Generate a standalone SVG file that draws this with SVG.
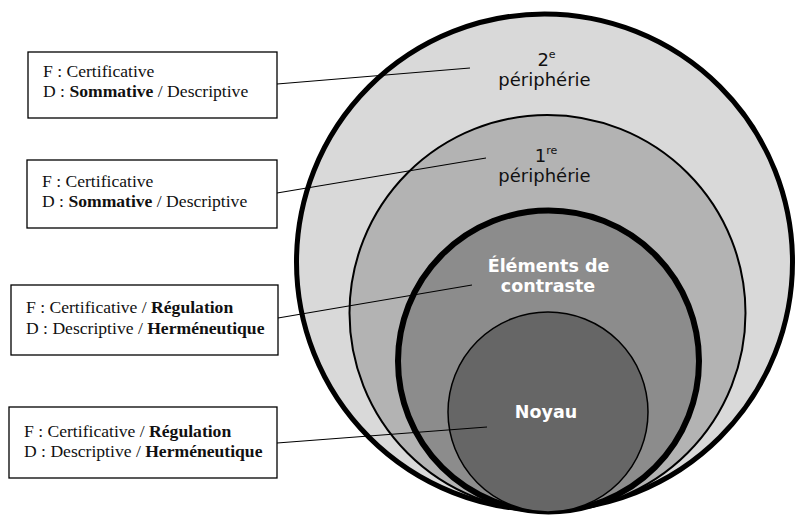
<svg xmlns="http://www.w3.org/2000/svg" width="795" height="515" viewBox="0 0 795 515">
<style>
.box{fill:#fff;stroke:#000;stroke-width:1.3}
.bt{font-family:"Liberation Serif","Times New Roman",serif;font-size:17.6px;fill:#111}
.b{font-weight:bold}
.ct{font-family:"DejaVu Sans",sans-serif;font-size:18px;fill:#111;text-anchor:middle}
.wt{font-family:"DejaVu Sans",sans-serif;font-size:17.5px;font-weight:bold;fill:#fff;text-anchor:middle}
.sup{font-size:11px}
.conn line{stroke:#000;stroke-width:1.1}
</style>
<rect width="795" height="515" fill="#fff"/>
<g id="periph2">
<circle cx="544.5" cy="262" r="248" fill="#d9d9d9" stroke="#000" stroke-width="5"/>
</g>
<g id="periph1">
<circle cx="547.5" cy="313" r="198" fill="#b3b3b3" stroke="#000" stroke-width="2"/>
</g>
<g id="contraste">
<circle cx="548.5" cy="361" r="150.5" fill="#8c8c8c" stroke="#000" stroke-width="6"/>
</g>
<g id="noyau">
<circle cx="548" cy="412" r="100" fill="#666666" stroke="#000" stroke-width="1.5"/>
</g>
<g id="labels">
<text class="ct" x="546.5" y="66">2<tspan class="sup" dy="-8">e</tspan></text>
<text class="ct" x="544.5" y="86">périphérie</text>
<text class="ct" x="546" y="162">1<tspan class="sup" dy="-8">re</tspan></text>
<text class="ct" x="544.5" y="182">périphérie</text>
<text class="wt" x="548.5" y="272">Éléments de</text>
<text class="wt" x="548" y="292">contraste</text>
<text class="wt" x="546" y="418" font-size="17">Noyau</text>
</g>
<g id="box1">
<rect class="box" x="28" y="52" width="249" height="66"/>
<text class="bt" x="43" y="77">F : Certificative</text>
<text class="bt" x="43" y="97">D : <tspan class="b">Sommative</tspan> / Descriptive</text>
</g>
<g id="box2">
<rect class="box" x="27" y="160" width="250" height="68"/>
<text class="bt" x="42" y="187">F : Certificative</text>
<text class="bt" x="42" y="207">D : <tspan class="b">Sommative</tspan> / Descriptive</text>
</g>
<g id="box3">
<rect class="box" x="11" y="285" width="267" height="70"/>
<text class="bt" x="26" y="313">F : Certificative / <tspan class="b">Régulation</tspan></text>
<text class="bt" x="26" y="334">D : Descriptive / <tspan class="b">Herméneutique</tspan></text>
</g>
<g id="box4">
<rect class="box" x="9" y="407" width="268" height="71"/>
<text class="bt" x="24" y="437">F : Certificative / <tspan class="b">Régulation</tspan></text>
<text class="bt" x="24" y="457">D : Descriptive / <tspan class="b">Herméneutique</tspan></text>
</g>
<g class="conn" id="connectors">
<line x1="277" y1="84" x2="470" y2="68"/>
<line x1="277" y1="193" x2="486" y2="158"/>
<line x1="278" y1="318" x2="472" y2="285"/>
<line x1="277" y1="443" x2="487" y2="427"/>
</g>
</svg>
